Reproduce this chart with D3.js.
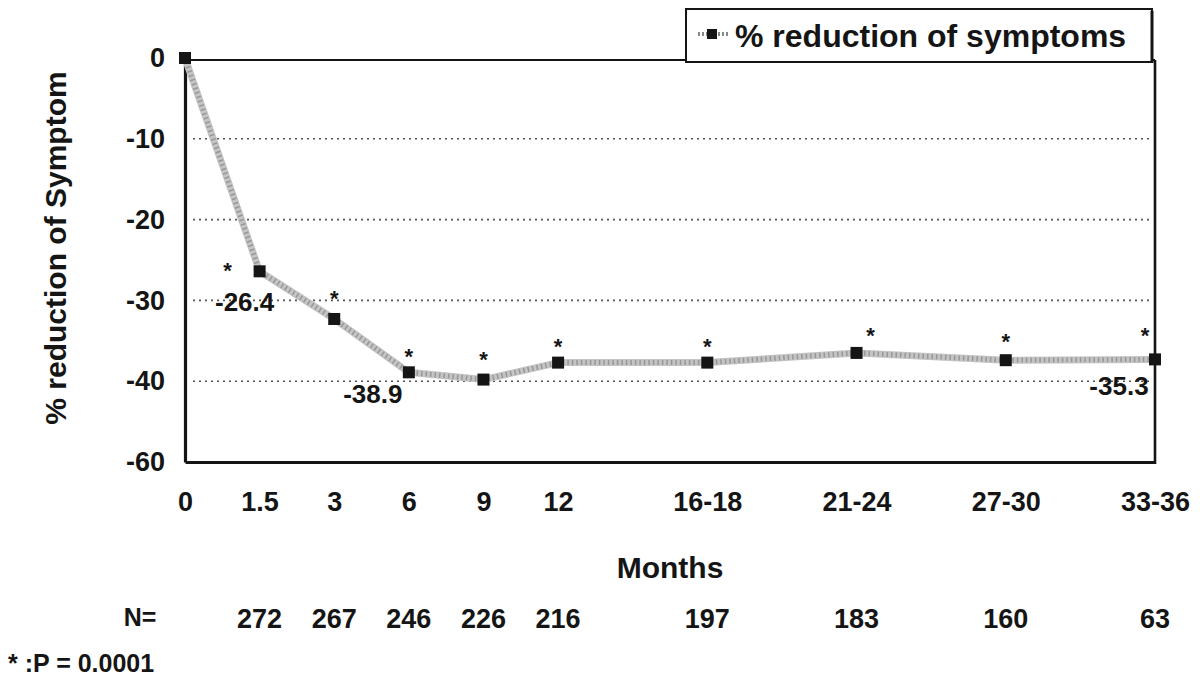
<!DOCTYPE html>
<html>
<head>
<meta charset="utf-8">
<script src="https://cdn.jsdelivr.net/npm/d3@7/dist/d3.min.js"></script>
<style>
  html, body { margin: 0; padding: 0; background: #fff; }
  svg { display: block; font-family: "Liberation Sans", Arial, sans-serif; }
</style>
</head>
<body>
<svg id="chart" width="1202" height="679"></svg>
<script>
// ---- data ----
const categories = ["0", "1.5", "3", "6", "9", "12", "16-18", "21-24", "27-30", "33-36"];
// categorical slots on the x axis (empty slots between the later ranges)
const xSlots = ["0", "1.5", "3", "6", "9", "12", "gapA", "16-18", "gapB", "21-24", "gapC", "27-30", "gapD", "33-36"];
const reduction = [0, -26.4, -32.3, -38.9, -39.8, -37.7, -37.7, -36.5, -37.4, -37.3];
const asteriskValues = [null, -25.9, -29.3, -36.5, -36.9, -35.3, -35.3, -33.9, -34.6, -33.9];
const pointLabels = ["", "-26.4", "", "-38.9", "", "", "", "", "", "-35.3"];
const nValues = [null, 272, 267, 246, 226, 216, 197, 183, 160, 63];
const yTickValues = [0, -10, -20, -30, -40, -50];
const yTickLabels = ["0", "-10", "-20", "-30", "-40", "-60"];
const gridValues = [-10, -20, -30, -40];
const legendLabel = "% reduction of symptoms";
const yTitle = "% reduction of Symptom";
const xTitle = "Months";
const footnote = "* :P = 0.0001";

// ---- layout ----
const svg = d3.select("#chart");
const L = 185, R = 1155, T = 58, B = 462;
const ink = "#151515";

const x = d3.scalePoint().domain(xSlots).range([L, R]);
const y = d3.scaleLinear().domain([-50, 0]).range([B, T]);

// gridlines
svg.append("g").selectAll("line").data(gridValues).join("line")
  .attr("x1", L + 8).attr("x2", R - 4)
  .attr("y1", d => y(d)).attr("y2", d => y(d))
  .attr("stroke", "#555").attr("stroke-width", 1.6)
  .attr("stroke-dasharray", "2,4");

// frame
svg.append("line").attr("x1", L).attr("x2", R).attr("y1", T + 2).attr("y2", T + 2)
  .attr("stroke", ink).attr("stroke-width", 2.2);
svg.append("line").attr("x1", R).attr("x2", R).attr("y1", T + 2).attr("y2", B + 2)
  .attr("stroke", ink).attr("stroke-width", 2.6);

// y axis
const yAxis = d3.axisLeft(y).tickValues(yTickValues)
  .tickFormat((d, i) => yTickLabels[i]).tickSize(0).tickPadding(20);
const gy = svg.append("g").attr("transform", `translate(${L},0)`).call(yAxis);
gy.select(".domain").attr("stroke", ink).attr("stroke-width", 3.2);
gy.selectAll("text").attr("font-size", 27).attr("font-weight", "bold").attr("fill", ink);

// x axis
const xAxis = d3.axisBottom(x).tickValues(categories).tickSize(0).tickPadding(30);
const gx = svg.append("g").attr("transform", `translate(0,${B})`).call(xAxis);
gx.select(".domain").attr("stroke", ink).attr("stroke-width", 3.2);
gx.selectAll("text").attr("font-size", 27).attr("font-weight", "bold").attr("fill", ink);

// line (grey, textured)
const pts = categories.map((c, i) => ({ c, v: reduction[i] }));
const lineGen = d3.line().x(d => x(d.c)).y(d => y(d.v)).curve(d3.curveLinear);
svg.append("path").attr("d", lineGen(pts)).attr("fill", "none")
  .attr("stroke", "#c4c4c4").attr("stroke-width", 7).attr("stroke-linejoin", "round");
svg.append("path").attr("d", lineGen(pts)).attr("fill", "none")
  .attr("stroke", "#7a7a7a").attr("stroke-width", 5).attr("stroke-dasharray", "1.5,3")
  .attr("opacity", 0.6);

// markers
svg.append("g").selectAll("rect").data(pts).join("rect")
  .attr("x", d => x(d.c) - 6).attr("y", d => y(d.v) - 6)
  .attr("width", 12).attr("height", 12).attr("fill", ink);

// asterisks (significance)
const astDx = { "1.5": -32, "21-24": 14, "33-36": -10 };
svg.append("g").selectAll("text")
  .data(categories.map((c, i) => ({ c, v: asteriskValues[i] })).filter(d => d.v !== null))
  .join("text")
  .attr("x", d => x(d.c) + (astDx[d.c] || 0)).attr("y", d => y(d.v) + 11)
  .attr("text-anchor", "middle").attr("font-size", 22).attr("font-weight", "bold")
  .attr("fill", ink).text("*");

// point labels
const lblOff = { "1.5": [-15, 40], "6": [-36, 31], "33-36": [-36, 36] };
svg.append("g").selectAll("text")
  .data(categories.map((c, i) => ({ c, v: reduction[i], t: pointLabels[i] })).filter(d => d.t))
  .join("text")
  .attr("x", d => x(d.c) + lblOff[d.c][0]).attr("y", d => y(d.v) + lblOff[d.c][1])
  .attr("text-anchor", "middle").attr("font-size", 26).attr("font-weight", "bold")
  .attr("fill", ink).text(d => d.t);

// axis titles
svg.append("text").attr("transform", `translate(66,248) rotate(-90)`)
  .attr("text-anchor", "middle").attr("font-size", 30).attr("font-weight", "bold")
  .attr("fill", ink).text(yTitle);
svg.append("text").attr("x", 670).attr("y", 578)
  .attr("text-anchor", "middle").attr("font-size", 30).attr("font-weight", "bold")
  .attr("fill", ink).text(xTitle);

// N row
svg.append("text").attr("x", 140).attr("y", 626).attr("text-anchor", "middle")
  .attr("font-size", 25).attr("font-weight", "bold").attr("fill", ink).text("N=");
svg.append("g").selectAll("text")
  .data(categories.map((c, i) => ({ c, n: nValues[i] })).filter(d => d.n !== null))
  .join("text")
  .attr("x", d => x(d.c)).attr("y", 628).attr("text-anchor", "middle")
  .attr("font-size", 27).attr("font-weight", "bold").attr("fill", ink).text(d => d.n);

// footnote
svg.append("text").attr("x", 8).attr("y", 672)
  .attr("font-size", 25).attr("font-weight", "bold").attr("fill", ink).text(footnote);

// legend
const lg = svg.append("g");
lg.append("rect").attr("x", 686).attr("y", 9).attr("width", 466).attr("height", 53)
  .attr("fill", "#fff").attr("stroke", ink).attr("stroke-width", 2);
lg.append("line").attr("x1", 1152).attr("x2", 1152).attr("y1", 11).attr("y2", 63)
  .attr("stroke", ink).attr("stroke-width", 3);
lg.append("line").attr("x1", 698).attr("x2", 728).attr("y1", 34).attr("y2", 34)
  .attr("stroke", "#888").attr("stroke-width", 4).attr("stroke-dasharray", "2,2");
lg.append("rect").attr("x", 707).attr("y", 29).attr("width", 10).attr("height", 10).attr("fill", ink);
lg.append("text").attr("x", 735).attr("y", 47).attr("font-size", 32).attr("font-weight", "bold")
  .attr("fill", ink).text(legendLabel);
</script>
</body>
</html>
